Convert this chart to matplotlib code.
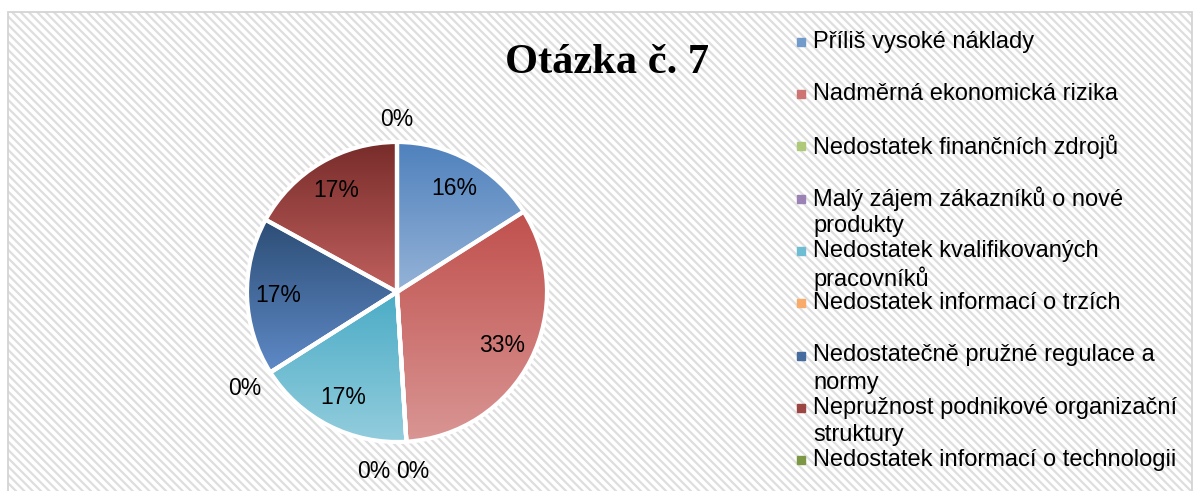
import numpy as np
import matplotlib
matplotlib.use("Agg")
import matplotlib.pyplot as plt
from matplotlib.colors import LinearSegmentedColormap, to_rgb
from matplotlib.patches import Rectangle

plt.rcParams['font.family'] = ['Liberation Sans', 'DejaVu Sans']
plt.rcParams['hatch.linewidth'] = 1.6

# --- data ---
title = 'Otázka č. 7'
labels = [
    'Příliš vysoké náklady',
    'Nadměrná ekonomická rizika',
    'Nedostatek finančních zdrojů',
    'Malý zájem zákazníků o nové\nprodukty',
    'Nedostatek kvalifikovaných\npracovníků',
    'Nedostatek informací o trzích',
    'Nedostatečně pružné regulace a\nnormy',
    'Nepružnost podnikové organizační\nstruktury',
    'Nedostatek informací o technologii',
]
values = [16, 33, 0, 0, 17, 0, 17, 17, 0]
top_colors = ['#4F81BD', '#C0504D', '#9BBB59', '#8064A2', '#4BACC6',
              '#F79646', '#2C4D75', '#772C2A', '#5F7530']
bottom_colors = ['#95B3D7', '#D99694', '#C3D69B', '#B3A2C7', '#93CDDD',
                 '#FAC090', '#5F8AC7', '#C0605E', '#9BBB59']

W, H = 1194, 491
fig = plt.figure(figsize=(W / 100, H / 100), dpi=100)


def fx(px):
    return px / W


def fy(py):
    return 1 - py / H


# hatched chart area + light border
fig.add_artist(Rectangle((fx(8), fy(520)), fx(1192) - fx(8), fy(12) - fy(520),
                         transform=fig.transFigure, facecolor='white',
                         edgecolor='#dedede', lw=0, hatch='\\\\\\\\', zorder=0))
fig.add_artist(Rectangle((fx(8), fy(520)), fx(1192) - fx(8), fy(12) - fy(520),
                         transform=fig.transFigure, fill=False,
                         edgecolor='#d4d4d4', lw=1.3, zorder=1))

# pie axes: centre and radius in pixels
cx, cy, R, lim = 397, 292, 150, 1.25
half = R * lim
ax = fig.add_axes([fx(cx - half), fy(cy + half), 2 * half / W, 2 * half / H])
ax.set_zorder(2)

wedges, _ = ax.pie(values, startangle=90, counterclock=False, radius=1,
                   wedgeprops=dict(facecolor='none', edgecolor='white',
                                   linewidth=3, zorder=3))

grad = np.linspace(0, 1, 256).reshape(-1, 1)
for w, c0, c1, v in zip(wedges, top_colors, bottom_colors, values):
    if v == 0:
        continue
    ext = w.get_path().get_extents()
    cmap = LinearSegmentedColormap.from_list('g', [c1, c0])
    im = ax.imshow(grad, cmap=cmap, origin='lower', aspect='auto',
                   extent=[ext.x0, ext.x1, ext.y0, ext.y1],
                   interpolation='bilinear', zorder=2)
    im.set_clip_path(w)

# percentage labels
total = sum(values)
starts = np.concatenate([[0], np.cumsum(values)[:-1]])
zero_idx = [i for i, v in enumerate(values) if v == 0]
for i, (v, s) in enumerate(zip(values, starts)):
    ang = np.deg2rad(90 - 360 * (s + v / 2) / total)
    dx = 0
    r = 0.79
    if v == 0:
        r = 1.15 if np.sin(ang) > 0.9 else 1.2
        same = [j for j in zero_idx if starts[j] == s]
        if len(same) > 1:
            dx = (same.index(i) - (len(same) - 1) / 2) * 0.26 - 0.1
    ax.text(r * np.cos(ang) + dx, r * np.sin(ang), f'{v}%',
            ha='center', va='center', fontsize=16.5, zorder=5)

ax.set_xlim(-lim, lim)
ax.set_ylim(-lim, lim)
ax.set_aspect('equal')
ax.axis('off')

# title
fig.text(fx(607), fy(73), title, ha='center', va='baseline', fontsize=30.5,
         fontweight='bold', family='Liberation Serif', zorder=5)

# legend, drawn entry by entry
for i, lab in enumerate(labels):
    y0 = 42 + 52.25 * i
    mid = [(a + b) / 2 for a, b in zip(to_rgb(top_colors[i]), to_rgb(bottom_colors[i]))]
    fig.add_artist(Rectangle((fx(797), fy(y0 + 4)), 8 / W, 8 / H,
                             transform=fig.transFigure, color=mid, zorder=5))
    for j, line in enumerate(lab.split('\n')):
        fig.text(fx(813), fy(y0 + 27.5 * j), line, ha='left', va='center',
                 fontsize=17, zorder=5)

fig.savefig('out.png', dpi=100)
